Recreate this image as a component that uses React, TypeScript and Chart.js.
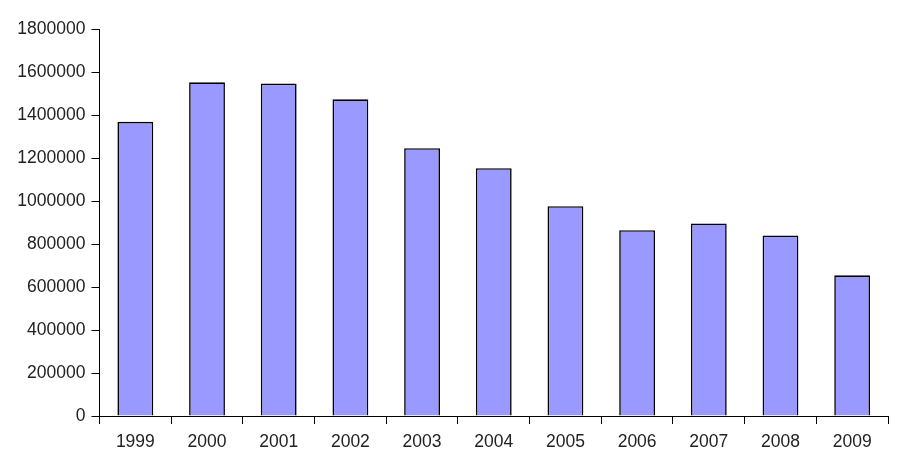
import React, { useEffect, useRef } from "react";
import { Chart, registerables } from "chart.js";

Chart.register(...registerables);

const categories = ["1999", "2000", "2001", "2002", "2003", "2004", "2005", "2006", "2007", "2008", "2009"];
const values = [1370000, 1554000, 1548000, 1475000, 1247000, 1154000, 977000, 865000, 897000, 841000, 655000];
const yMin = 0;
const yMax = 1800000;
const yStep = 200000;

export default function App() {
  const ref = useRef<HTMLCanvasElement | null>(null);
  useEffect(() => {
    if (!ref.current) return;
    const chart = new Chart(ref.current, {
      type: "bar",
      data: {
        labels: categories,
        datasets: [
          {
            data: values,
            backgroundColor: "#9999FF",
            borderColor: "#000000",
            borderWidth: 1.6,
            barPercentage: 0.5,
            categoryPercentage: 1,
          },
        ],
      },
      options: {
        animation: false,
        responsive: false,
        maintainAspectRatio: false,
        layout: { padding: { top: 29.5, right: 27, left: 0, bottom: 0 } },
        plugins: { legend: { display: false }, tooltip: { enabled: false } },
        scales: {
          x: {
            afterFit: (s: any) => {
              s.height = 49;
            },
            grid: {
              display: true,
              drawOnChartArea: false,
              drawTicks: true,
              tickLength: 8,
              color: "#000",
              offset: true,
            },
            border: { display: true, color: "#000", width: 1 },
            ticks: {
              color: "#222",
              padding: 8,
              font: { family: "'Liberation Sans', Arial, sans-serif", size: 17.5 },
              maxRotation: 0,
            },
          },
          y: {
            min: yMin,
            max: yMax,
            afterFit: (s: any) => {
              s.width = 99.5;
            },
            grid: {
              display: true,
              drawOnChartArea: false,
              drawTicks: true,
              tickLength: 8,
              color: "#000",
            },
            border: { display: true, color: "#000", width: 1 },
            ticks: {
              stepSize: yStep,
              color: "#222",
              padding: 6,
              font: { family: "'Liberation Sans', Arial, sans-serif", size: 17.5 },
              callback: (v: any) => String(v),
            },
          },
        },
      },
    });
    return () => chart.destroy();
  }, []);
  return (
    <div style={{ position: "fixed", left: 0, top: 0, width: 915, height: 465, background: "#fff" }}>
      <canvas ref={ref} width={915} height={465} style={{ width: 915, height: 465 }} />
    </div>
  );
}
